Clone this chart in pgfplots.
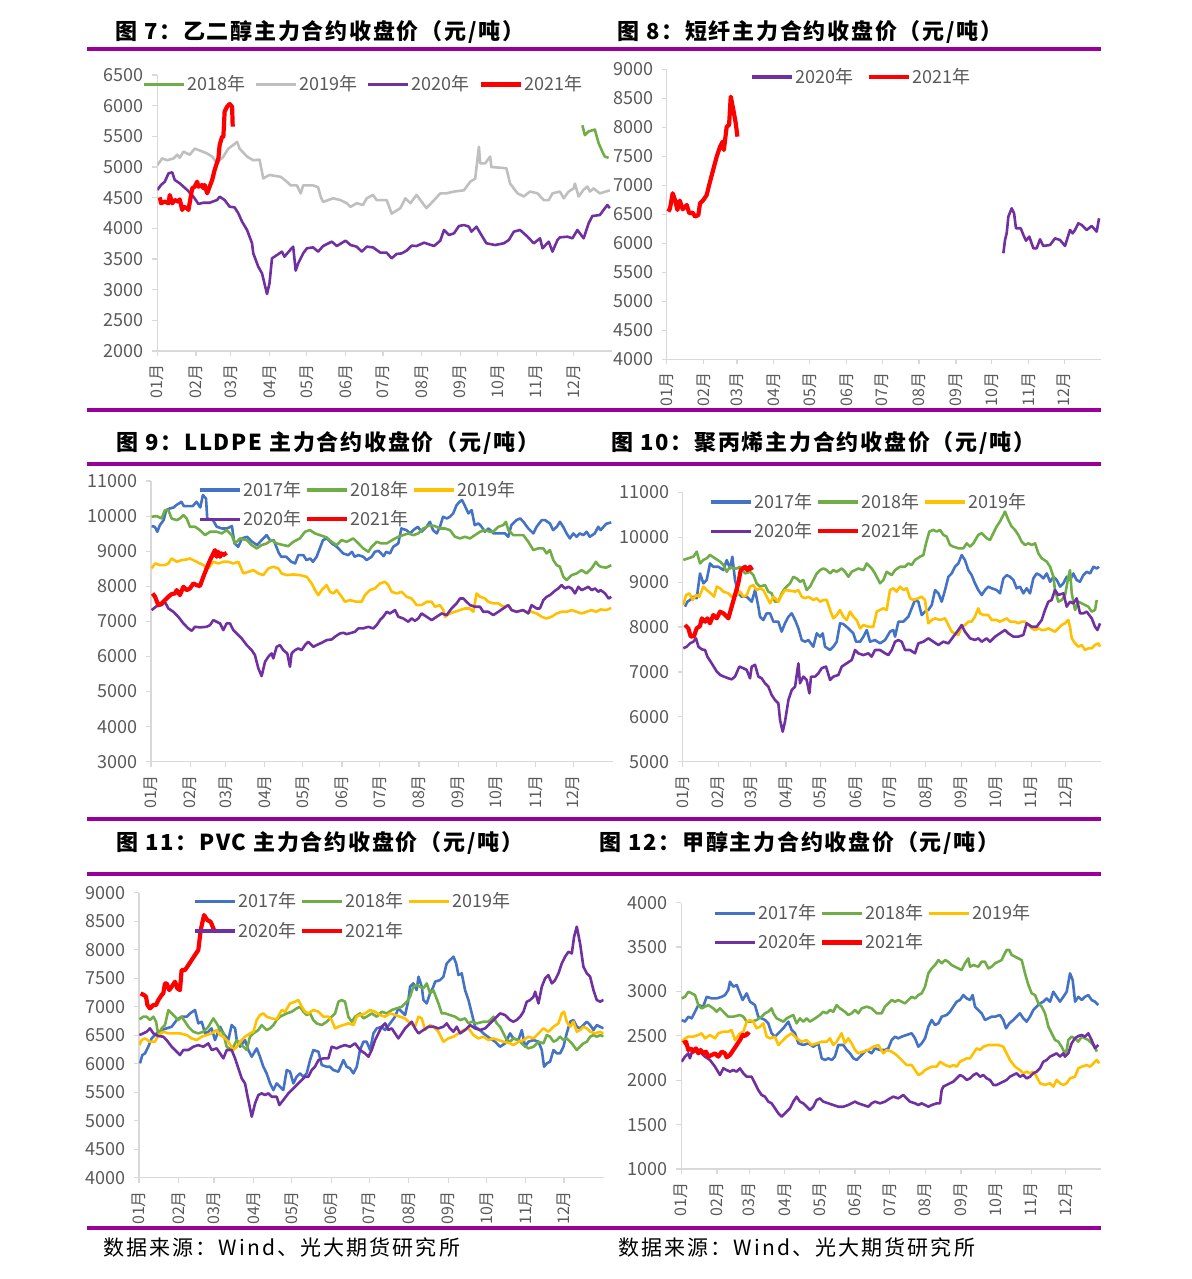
\documentclass[border=0pt]{standalone}
\usepackage{fontspec}
\usepackage{pgfplots}
\pgfplotsset{compat=1.18}
\setmainfont{Noto Sans CJK SC}
\newfontfamily\titlefont[LetterSpace=8]{Noto Sans CJK SC}
\newfontfamily\footfont[LetterSpace=10]{Noto Sans CJK SC}
\definecolor{c17}{HTML}{4472C4}
\definecolor{c18}{HTML}{70AD47}
\definecolor{c19}{HTML}{FFC000}
\definecolor{c20}{HTML}{7030A0}
\definecolor{c21}{HTML}{FF0000}
\definecolor{cgray}{HTML}{BFBFBF}
\definecolor{rulepurple}{HTML}{990099}
\definecolor{labgray}{HTML}{595959}
\definecolor{axisgray}{HTML}{D9D9D9}
\newcommand\ticksize{\fontsize{9pt}{10.5pt}\selectfont}
\newcommand\xticksize{\fontsize{8pt}{9.5pt}\selectfont}
\newcommand\ttl{\titlefont\bfseries\fontsize{11pt}{13pt}\selectfont}
\pgfplotsset{
 chartbase/.style={
  scale only axis, anchor=south west,
  axis lines=left, axis line style={-, draw=axisgray, line width=0.6pt},
  tick style={draw=axisgray, line width=0.6pt}, tick align=outside, major tick length=2.5pt,
  xmin=0, xmax=365,
  xtick={0,31,59,90,120,151,181,212,243,273,304,334},
  xticklabels={01月,02月,03月,04月,05月,06月,07月,08月,09月,10月,11月,12月},
  xticklabel style={rotate=90, anchor=east, font=\xticksize, text=labgray, inner sep=0pt},
  yticklabel style={font=\ticksize, text=labgray, inner sep=0pt},
  xticklabel shift=4pt, yticklabel shift=4pt,
  scaled ticks=false, /pgf/number format/1000 sep={}, /pgf/number format/assume math mode=true,
  legend cell align=left,
  legend style={draw=none, fill=none, font=\ticksize, inner sep=0pt, nodes={inner sep=1pt, text=labgray}},
  legend image code/.code={\draw[##1, line width=1.6pt] (0pt,0pt) -- (20pt,0pt);},
  every axis plot/.append style={line width=1.3pt, line join=round, no markers},
 },
 redline/.style={c21, line width=2.1pt},
 redleg/.style={legend image code/.code={\draw[c21, line width=2.2pt] (0pt,0pt) -- (20pt,0pt);}},
}
\begin{document}
\begin{tikzpicture}
\begin{scope}[x=0.5pt,y=-0.5pt]
\path[use as bounding box] (0,0) rectangle (1191,1279);
\foreach \yy in {49.5,409.5,463.5,819,874,1228} {\draw[rulepurple, line width=2pt] (87,\yy) -- (1101,\yy);}
\node[anchor=west, inner sep=0pt] at (115,32.3) {\ttl 图 7：乙二醇主力合约收盘价（元/吨）};
\node[anchor=west, inner sep=0pt] at (617,32.3) {\ttl 图 8：短纤主力合约收盘价（元/吨）};
\node[anchor=west, inner sep=0pt] at (116,443) {\ttl 图 9：LLDPE 主力合约收盘价（元/吨）};
\node[anchor=west, inner sep=0pt] at (611,443) {\ttl 图 10：聚丙烯主力合约收盘价（元/吨）};
\node[anchor=west, inner sep=0pt] at (116,842.7) {\ttl 图 11：PVC 主力合约收盘价（元/吨）};
\node[anchor=west, inner sep=0pt] at (599,842.7) {\ttl 图 12：甲醇主力合约收盘价（元/吨）};
\node[anchor=west, inner sep=0pt] at (103,1247.7) {\footfont\fontsize{10.5pt}{12pt}\selectfont 数据来源：Wind、光大期货研究所};
\node[anchor=west, inner sep=0pt] at (618,1247.7) {\footfont\fontsize{10.5pt}{12pt}\selectfont 数据来源：Wind、光大期货研究所};
\end{scope}

% ---------- Panel 1: 乙二醇 ----------
\begin{axis}[chartbase, at={(78.65pt,-175.5pt)}, width=227.5pt, height=138pt,
  ymin=2000, ymax=6500, ytick={2000,2500,...,6500},
  legend columns=4,
  legend style={at={(-0.0343,0.9663)}, anchor=west, /tikz/every even column/.append style={column sep=3.5pt}}]
\addplot[c18] coordinates {(341,5680)(343,5520)(346,5580)(351,5610)(354,5390)(357,5250)(359,5170)(362,5150)};
\addlegendentry{2018年}
\addplot[cgray] coordinates {(0,5030)(4,5140)(8,5110)(13,5140)(16,5200)(18,5150)(21,5250)(26,5200)(30,5300)(34,5270)(40,5220)(44,5170)(48,5060)(50,5110)(53,5170)(57,5300)(61,5360)(64,5410)(66,5300)(72,5170)(77,5110)(82,5120)(85,4815)(90,4870)(99,4840)(104,4760)(107,4700)(112,4700)(115,4570)(117,4700)(125,4700)(129,4670)(131,4520)(133,4430)(141,4490)(147,4460)(152,4410)(155,4350)(160,4410)(165,4380)(168,4490)(173,4545)(176,4460)(184,4460)(188,4240)(195,4330)(199,4490)(203,4410)(208,4545)(214,4380)(216,4330)(222,4460)(227,4570)(232,4570)(238,4600)(246,4620)(251,4760)(255,4810)(258,5330)(259,5060)(263,5060)(267,5170)(268,5000)(280,4980)(283,4730)(289,4570)(294,4520)(299,4600)(305,4570)(310,4460)(314,4460)(317,4570)(323,4600)(326,4490)(330,4600)(334,4650)(335,4730)(338,4520)(342,4630)(345,4680)(347,4600)(350,4650)(355,4570)(363,4620)};
\addlegendentry{2019年}
\addplot[c20] coordinates {(0,4625)(3,4707)(6,4760)(9,4897)(12,4913)(14,4788)(18,4734)(24,4625)(29,4516)(33,4397)(37,4418)(42,4418)(48,4462)(50,4516)(54,4462)(58,4353)(62,4342)(65,4245)(68,4109)(72,3973)(76,3756)(77,3592)(81,3375)(84,3266)(88,2929)(90,3103)(92,3511)(96,3565)(100,3620)(102,3538)(107,3658)(109,3701)(111,3310)(113,3429)(117,3592)(120,3674)(125,3690)(129,3620)(133,3712)(140,3783)(144,3712)(151,3799)(155,3728)(160,3701)(164,3620)(168,3701)(173,3690)(179,3603)(184,3603)(188,3511)(192,3582)(196,3592)(200,3636)(204,3717)(208,3712)(214,3766)(222,3712)(227,3799)(230,3973)(234,3891)(238,3919)(242,4038)(246,4054)(250,4027)(252,3946)(256,4027)(260,3891)(264,3756)(271,3728)(278,3756)(282,3810)(286,3946)(291,3973)(297,3864)(302,3756)(307,3837)(309,3674)(314,3783)(317,3620)(321,3810)(323,3853)(329,3864)(333,3837)(337,3973)(342,3837)(346,4082)(349,4201)(355,4217)(358,4300)(361,4380)(363,4330)};
\addlegendentry{2020年}
\addplot[redline, forget plot] coordinates {(2,4505)(3,4408)(6,4435)(9,4408)(10,4543)(12,4408)(14,4462)(17,4435)(18,4473)(20,4299)(21,4353)(24,4326)(25,4299)(28,4652)(30,4679)(32,4761)(33,4679)(36,4707)(37,4652)(38,4707)(40,4571)(41,4625)(44,4788)(46,4951)(49,5141)(50,5358)(52,5495)(53,5495)(54,5902)(56,5984)(58,6027)(60,5984)(60.5,5658)};
\addlegendimage{redleg}
\addlegendentry{2021年}
\end{axis}

% ---------- Panel 2: 短纤 ----------
\begin{axis}[chartbase, at={(333.35pt,-179.65pt)}, width=217.25pt, height=145pt,
  ymin=4000, ymax=9000, ytick={4000,4500,...,9000},
  legend columns=2,
  legend style={at={(0.1917,0.9734)}, anchor=west, /tikz/every even column/.append style={column sep=5.5pt}}]
\addplot[c20] coordinates {(282.8,5828)(284.2,6057)(285.6,6172)(287,6460)(289.8,6603)(291.8,6517)(293.4,6259)(297.4,6259)(299.6,6144)(301.8,6046)(304.6,6115)(308,5914)(310.8,5914)(313.6,6069)(316.4,5954)(322,5971)(326.2,6086)(330.4,6057)(334.6,5954)(338.8,6230)(341,6172)(343,6230)(345.8,6345)(348.6,6316)(352.8,6230)(357,6299)(361.2,6201)(363.2,6431)};
\addlegendentry{2020年}
\addplot[redline, forget plot] coordinates {(1.4,6546)(2.8,6603)(5,6862)(7,6747)(9,6575)(11,6736)(13.4,6586)(16.8,6661)(19,6517)(21.8,6529)(23.8,6460)(26.6,6488)(28,6690)(30.8,6747)(33.6,6833)(36.4,7063)(39,7264)(42,7494)(44.8,7667)(47,7753)(48,7609)(50.4,8011)(52.4,8040)(53.8,8529)(56,8299)(58,8069)(59.4,7839)};
\addlegendimage{redleg}
\addlegendentry{2021年}
\end{axis}

% ---------- Panel 3: LLDPE ----------
\begin{axis}[chartbase, at={(75.5pt,-380.85pt)}, width=230.75pt, height=140.35pt,
  ymin=3000, ymax=11000, ytick={3000,4000,...,11000},
  legend columns=3,
  legend style={at={(0.1018,0.9163)}, anchor=west, row sep=3.5pt, /tikz/every even column/.append style={column sep=0.5pt}}]
\addplot[c17] coordinates {(0.5,9715)(3,9696)(5,9554)(7,9743)(10,9886)(12,10171)(15,10218)(18,10247)(20,10313)(23,10380)(24,10408)(26,10285)(28,10285)(33,10285)(36,10408)(39,10247)(41,10598)(43.5,10503)(44.5,9933)(47,9905)(49,9886)(52,9696)(56,9648)(60,9648)(64,9715)(66,9221)(69,9126)(72,9364)(76,9411)(80,9268)(84,9174)(87.5,9316)(91.5,9458)(94,9316)(97,9316)(101,8955)(103,8841)(107,8841)(111,8698)(114,8651)(116.5,8888)(120.5,8888)(123,8746)(126,8793)(128,8698)(131,8841)(134,9126)(136,9316)(139,9364)(143,9221)(147,9126)(149.5,9031)(152,8936)(156,8888)(159,8983)(161,8841)(164,8888)(168,8841)(170.5,8746)(174.5,8841)(177,8983)(180,9012)(184,8860)(186,8983)(189,8936)(191.6,9126)(195.6,9221)(198,9648)(202,9601)(205,9506)(207.5,9601)(211,9696)(214,9554)(218,9696)(220.6,9838)(223,9601)(226,9506)(228.5,9696)(231,9981)(234,9933)(236.4,9981)(239,10076)(241.7,10313)(244,10408)(246,10456)(248,10313)(251,10076)(253.6,10171)(256,9743)(259,9791)(261.5,9696)(264,9554)(267,9648)(271,9506)(276,9506)(280,9506)(282.6,9411)(285,9743)(289,9886)(292,9933)(294.5,9838)(298.4,9648)(302.4,9506)(305,9696)(309,9886)(311.6,9886)(315.5,9791)(318,9601)(321,9696)(323.4,9838)(326,9696)(328.7,9506)(331.3,9364)(334,9506)(336.6,9411)(339,9506)(342,9458)(344.5,9554)(347,9411)(351,9506)(353.7,9696)(355.6,9601)(360,9780)(364,9820)};
\addlegendentry{2017年}
\addplot[c18] coordinates {(0.5,9981)(4.5,10000)(8.4,9933)(11,10171)(13.7,10171)(16.3,9933)(20.3,9886)(22.9,9933)(25.6,10028)(28.2,9933)(30.8,9696)(34.8,9696)(38.7,9601)(42.7,9458)(46.7,9554)(51.9,9554)(55.9,9506)(59.8,9601)(63.8,9458)(66.4,9221)(70.4,9364)(75.7,9316)(79.6,9174)(83.6,9079)(87.5,9174)(91.5,9221)(95.4,9316)(99.4,9221)(104.6,9174)(108.6,9145)(112.6,9268)(117.8,9364)(121.8,9554)(125.7,9601)(129.7,9506)(133.6,9458)(138.9,9392)(142.9,9268)(146.8,9174)(150.8,9316)(154.7,9268)(160,9364)(164,9221)(167.9,9079)(171.9,8983)(174.5,9126)(178.5,9268)(182.4,9221)(186.4,9221)(191.6,9335)(195.6,9411)(199.5,9458)(203.5,9506)(207.5,9458)(211.4,9506)(215.4,9648)(220.6,9743)(224.6,9715)(228.5,9648)(232.5,9648)(236.4,9601)(240.4,9411)(244.4,9364)(248.3,9411)(252.3,9364)(256.2,9458)(260.2,9554)(264.1,9601)(268.1,9554)(270.7,9554)(274.7,9696)(278.6,9743)(280.7,9838)(282.6,9601)(286.5,9458)(290.5,9458)(294.5,9458)(298.4,9268)(302.4,9031)(306.3,9079)(310.3,9079)(312.9,8936)(315.5,9031)(318.2,8746)(320.8,8604)(323.4,8556)(326.1,8271)(328.7,8176)(332.7,8319)(336.6,8366)(340.6,8461)(344.5,8366)(348.5,8509)(351.9,8698)(353.7,8604)(355.6,8556)(360,8530)(364,8600)};
\addlegendentry{2018年}
\addplot[c19] coordinates {(0.5,8508)(3.2,8651)(7.1,8603)(11,8603)(13.7,8651)(16.3,8793)(20.3,8698)(24.3,8746)(28.2,8765)(30.8,8793)(36.1,8698)(41.4,8603)(45.3,8508)(49.3,8698)(53.2,8651)(57.2,8698)(61.2,8698)(65.1,8651)(69.1,8698)(73,8366)(77,8413)(80.9,8461)(84.9,8366)(88.8,8319)(92.8,8508)(96.7,8556)(100.7,8508)(103.3,8366)(107.3,8319)(112.6,8337)(117.8,8319)(123.1,8271)(127.1,8081)(129.7,7891)(132.3,7748)(135,7891)(138.9,8033)(141.6,7843)(144.2,7796)(146.8,7891)(150.8,7701)(153.4,7558)(157.4,7606)(162.6,7558)(166.6,7558)(169.2,7748)(173.2,7891)(177.1,7938)(181.1,8081)(185,8128)(187.7,8033)(190.3,7843)(194.3,7796)(198.2,7843)(202.2,7701)(206.1,7653)(210.1,7463)(214,7463)(218,7558)(222,7558)(224.6,7416)(228.5,7463)(231.2,7321)(232.5,7131)(236.4,7226)(240.4,7273)(244.4,7321)(248.3,7368)(252.3,7368)(254.9,7273)(257.5,7796)(260.2,7701)(264.1,7653)(266.8,7558)(270.7,7511)(274.7,7511)(278.6,7416)(282.6,7463)(285.2,7321)(289.2,7273)(293.1,7321)(297.1,7273)(301,7273)(305,7226)(308.9,7131)(312.9,7083)(316.8,7131)(320.8,7226)(324.8,7273)(328.7,7273)(332.7,7321)(336.6,7273)(340.6,7226)(344.5,7273)(348.5,7321)(351.9,7273)(355.6,7340)(360,7320)(364,7380)};
\addlegendentry{2019年}
\addplot[c20] coordinates {(0.5,7321)(4.5,7435)(8.4,7463)(11,7558)(13.7,7368)(17.7,7273)(21.6,7131)(25.6,6941)(29.5,6799)(32.2,6732)(34.8,6846)(38.7,6827)(44,6846)(46.7,6894)(49.3,7036)(51.9,6989)(54.6,6941)(57.2,6751)(59.8,6941)(62.5,6941)(65.1,6751)(67.7,6656)(71.7,6514)(75.7,6324)(79.6,6181)(82.2,6039)(84.9,5660)(87.5,5441)(90.2,5849)(92.8,5992)(95.4,6086)(96.7,5944)(99.4,6276)(102,6324)(104.6,6181)(107.8,6086)(109.9,5706)(111.2,6086)(113.9,6181)(116.5,6229)(119.1,6181)(121.8,6324)(124.4,6419)(128.4,6276)(131,6324)(135,6390)(138.9,6466)(142.9,6485)(145.5,6561)(149.5,6656)(152.1,6675)(154.7,6637)(158.7,6675)(161.3,6703)(164,6799)(167.9,6799)(171.9,6846)(175.8,6799)(178.5,6894)(181.1,7036)(183.7,7131)(186.4,7273)(189,7226)(193,7321)(195.6,7131)(199.5,7083)(203.5,6989)(206.1,7083)(208.8,7017)(211.4,7083)(214,7226)(218,7131)(222,7036)(225.9,7131)(229.9,7226)(233.8,7178)(237.7,7368)(241.7,7511)(244.4,7653)(247,7653)(249.6,7558)(252.3,7463)(256.2,7416)(260.2,7416)(262.8,7273)(266.8,7273)(270.7,7178)(274.7,7273)(278.6,7368)(282.6,7463)(285.2,7321)(289.2,7273)(294.4,7321)(298.4,7226)(301,7463)(305,7368)(307.6,7368)(310.3,7606)(312.9,7701)(315.5,7748)(319.5,7872)(322.1,7938)(324.8,8033)(327.4,7938)(330.1,7986)(332.7,7938)(335.3,7796)(338,7986)(340.6,7891)(343.3,7938)(345.9,7986)(348.5,7891)(351.2,7938)(353.8,7843)(355.6,7891)(359,7800)(362,7650)(364,7700)};
\addlegendentry{2020年}
\addplot[redline, forget plot] coordinates {(1.3,7796)(3.2,7701)(5.8,7463)(8.4,7511)(11,7606)(13.7,7701)(16.3,7777)(19,7796)(20.3,7891)(22.9,7748)(25.6,7986)(28.2,7891)(30.8,7938)(33.5,8081)(36.1,8033)(38.7,8005)(41.4,8271)(44,8509)(46.7,8746)(49.3,8936)(50.6,9031)(51.9,8841)(53.2,8983)(54.6,8841)(55.9,8936)(57.2,8888)(59.8,8955)};
\addlegendimage{redleg}
\addlegendentry{2021年}
\end{axis}

% ---------- Panel 4: 聚丙烯 ----------
\begin{axis}[chartbase, at={(341.35pt,-380.85pt)}, width=209.25pt, height=134.7pt,
  ymin=5000, ymax=11000, ytick={5000,6000,...,11000},
  legend columns=3,
  legend style={at={(0.0628,0.910)}, anchor=west, row sep=3.5pt, /tikz/every even column/.append style={column sep=0.5pt}}]
\addplot[c17] coordinates {(2,8453)(4.1,8564)(6.4,8602)(9.3,8676)(12.2,8639)(15.1,9193)(18,8973)(20.9,9047)(23.8,9416)(26.7,9342)(31.1,9342)(35.5,9267)(38.4,9490)(41.3,9304)(43.3,9565)(45.6,9047)(48.5,8750)(51.4,8676)(55.8,8676)(60.2,8564)(63.1,8824)(66,8453)(67.4,8230)(70.3,8156)(73.2,8305)(76.2,8305)(79.1,8119)(83.4,8119)(86.3,7896)(89.2,8082)(92.2,8230)(95.1,8305)(98,8156)(100.9,7970)(103.8,7710)(106.7,7673)(109.6,7710)(113.9,7562)(116.9,7859)(119.8,7785)(122.1,7859)(124.1,7562)(128.5,7488)(131.4,7562)(134.3,7673)(137.2,8082)(140.1,8067)(144.5,7970)(148.8,7859)(151.2,7673)(154.7,7673)(157.6,7785)(160.5,7933)(163.4,7673)(167.7,7710)(172.1,7636)(176.5,7710)(180.8,7896)(183.7,7933)(185.2,7785)(188.1,8119)(192.4,8119)(196.8,8230)(199.7,8416)(202.6,8602)(205.5,8564)(208.4,8267)(211.3,8342)(214.2,8379)(217.2,8490)(220.1,8824)(223,8750)(225.9,8564)(228.8,8824)(231.7,9119)(234.6,9193)(237.5,9342)(240.4,9416)(243.3,9602)(246.2,9490)(249.1,9267)(252,9156)(254.9,8973)(257.8,8824)(260.8,8713)(263.7,8824)(266.6,8899)(269.5,8862)(273.8,8824)(276.7,8750)(279.7,9082)(282.6,9156)(285.5,9119)(288.4,9047)(291.3,8862)(294.2,8899)(297.1,8750)(300,8862)(302.9,8750)(305.8,9082)(308.7,9193)(311.6,9156)(314.6,9082)(317.5,9193)(320.4,9007)(323.3,9119)(326.2,9047)(329.1,8899)(332,8973)(334.9,9119)(337.8,9047)(340.7,9193)(343.6,9047)(346.5,9007)(349.4,9156)(352.4,9230)(355.3,9193)(358.2,9342)(361.1,9304)(363.1,9342)};
\addlegendentry{2017年}
\addplot[c18] coordinates {(0.6,9493)(4.9,9530)(9.3,9567)(12.2,9678)(15.1,9416)(18,9493)(20.9,9530)(23.8,9604)(28.2,9530)(32.6,9456)(35.5,9381)(38.4,9230)(41.3,9342)(44.2,9304)(47.1,9304)(50,9342)(54.4,9193)(58.7,9230)(61.6,9156)(64.5,8973)(67.4,8899)(71.8,8936)(74.7,8788)(77.6,8750)(80.5,8564)(83.4,8564)(86.3,8750)(89.2,8862)(93.6,8973)(96.5,9119)(99.4,9082)(102.3,9007)(105.2,9047)(108.1,8824)(111,8899)(114,9047)(116.9,9193)(119.8,9267)(122.7,9304)(125.6,9267)(128.5,9193)(131.4,9267)(134.3,9230)(138.7,9304)(141.6,9230)(144.5,9119)(147.4,9230)(150.3,9267)(153.2,9304)(157.6,9267)(160.5,9416)(164.8,9304)(167.7,9193)(172.1,8973)(175,9047)(177.9,9230)(182.3,9156)(185.2,9267)(189.5,9342)(193.9,9342)(196.8,9416)(199.7,9381)(202.6,9493)(207,9567)(209.9,9604)(212.2,9864)(215.1,10126)(218.6,10163)(221.5,10126)(224.4,10163)(227.3,10052)(230.2,10015)(233.1,9827)(236,9790)(240.4,9753)(244.8,9753)(247.7,9864)(250.6,9790)(253.5,9864)(257.8,10052)(260.8,10089)(265.1,9978)(268,9938)(270.9,10089)(273.8,10238)(276.7,10349)(279.7,10497)(281.1,10571)(284,10386)(286.9,10238)(289.8,10163)(292.7,10052)(295.6,9901)(298.5,9827)(301.5,9864)(304.4,9827)(307.3,9864)(310.2,9641)(313.1,9530)(317.5,9456)(320.4,9342)(323.3,9119)(324.7,8824)(327.6,8564)(330.6,8602)(333.5,8713)(336.4,9119)(337.8,9267)(339.3,8750)(342.2,8379)(345.1,8564)(348,8527)(350.9,8490)(353.8,8453)(356.7,8342)(359.6,8379)(361.1,8602)};
\addlegendentry{2018年}
\addplot[c19] coordinates {(0.6,8490)(2.9,8713)(5.8,8750)(8.7,8602)(11.6,8713)(14.5,8676)(18,8899)(20.9,8824)(24.4,8750)(27.3,8676)(29.7,8899)(32.6,8862)(35.5,8788)(39.8,8750)(42.7,8676)(47.1,8713)(50,8788)(52.9,8676)(55.8,8713)(58.7,8899)(61.6,8936)(64.5,8824)(67.4,8862)(70.3,8824)(73.3,8676)(76.2,8527)(79.1,8676)(83.4,8564)(86.3,8713)(89.2,8824)(93.6,8809)(98,8788)(100.9,8824)(103.8,8676)(106.7,8639)(109.6,8676)(114,8602)(116.9,8639)(119.8,8564)(122.7,8602)(125.6,8602)(128.5,8379)(131.4,8193)(134.3,8267)(137.2,8379)(140.1,8230)(143,8156)(145.9,8342)(148.8,8230)(151.7,8156)(154.7,7970)(157.6,8045)(161.9,8007)(166.3,8007)(169.2,8342)(172.1,8379)(175,8416)(177.9,8379)(180.8,8824)(183.7,8862)(186.6,8788)(189.5,8899)(192.4,8824)(195.4,8862)(198.3,8639)(201.2,8602)(205.5,8639)(208.4,8676)(211.3,8602)(214.2,8082)(217.2,8156)(220.1,8193)(224.4,8156)(228.8,8193)(231.7,8045)(234.6,7896)(237.5,7859)(240.4,7822)(243.3,8007)(246.2,8045)(249.1,8119)(252,8119)(254.9,8230)(257.8,8416)(259.3,8305)(262.2,8267)(266.6,8267)(269.5,8156)(273.8,8156)(276.7,8119)(279.7,8156)(282.6,8193)(285.5,8119)(289.8,8119)(292.7,8082)(295.6,8119)(298.5,8119)(301.5,8045)(304.4,7970)(307.3,7933)(310.2,7970)(313.1,7933)(316,7933)(318.9,7970)(321.8,7933)(324.7,7896)(327.6,7970)(330.5,8045)(333.4,8082)(336.3,8156)(337.8,8007)(339.3,7748)(342.2,7636)(345.1,7562)(348,7599)(350.9,7488)(353.8,7525)(356.7,7525)(359.6,7599)(362.5,7636)(364,7562)};
\addlegendentry{2019年}
\addplot[c20] coordinates {(0.6,7525)(3.5,7562)(6.4,7636)(9.3,7673)(11.6,7748)(13.7,7562)(16.6,7503)(19.5,7488)(21.5,7340)(25.3,7191)(29.7,7007)(32.6,6933)(36,6895)(39.8,6858)(42.7,6835)(45.6,6895)(49.4,7119)(52.9,7082)(55.8,7045)(58.7,6858)(60.2,7119)(63.1,7156)(66,6895)(68.9,6858)(71.8,6747)(74.7,6671)(77.6,6485)(80.5,6374)(83.4,6300)(84.9,5928)(87.2,5668)(89.2,5891)(92.2,6374)(95.1,6597)(98,6671)(100.9,7191)(102.3,6747)(105.2,6895)(108.1,6821)(110.5,6522)(111.9,6895)(115.4,6895)(118.3,6967)(121.2,7082)(125,7119)(128.5,6821)(131.4,6895)(135.8,6933)(138.7,7119)(143,7191)(147.4,7265)(150.3,7488)(153.2,7414)(157.6,7376)(161.9,7414)(164.8,7340)(167.7,7488)(172.1,7488)(176.5,7414)(179.4,7376)(182.3,7488)(185.2,7673)(188.1,7710)(191,7673)(193.9,7488)(198.3,7488)(202.6,7414)(205.5,7636)(209.9,7673)(214.2,7748)(218.6,7673)(223,7599)(227.3,7673)(231.7,7636)(236,7785)(240.4,7933)(243.3,8045)(246.2,7896)(250.6,7748)(254.9,7710)(257.8,7748)(260.8,7673)(265.1,7748)(268,7673)(272.4,7785)(276.7,7859)(281.1,7933)(284,7859)(288.4,7785)(292.7,7785)(297.1,7822)(300,8082)(304.4,8007)(308.7,8007)(313.1,8156)(316,8379)(318.9,8564)(321.8,8602)(324.7,8824)(327.6,8713)(332,8750)(334.9,8453)(337.8,8564)(340.7,8527)(343.6,8639)(346.5,8305)(349.4,8305)(352.4,8342)(356.7,8193)(359.6,8007)(361.7,7933)(364,8082)};
\addlegendentry{2020年}
\addplot[redline, forget plot] coordinates {(2,8045)(4.9,7970)(7,7785)(9.9,7800)(12.2,7970)(15.1,8022)(16.6,8193)(19.5,8119)(21.5,8193)(23.8,8082)(26.7,8267)(29.7,8193)(32.6,8342)(35.5,8305)(38.4,8230)(39.8,8193)(42.7,8453)(45.6,8713)(48.5,8973)(50.6,9267)(52.3,9304)(54.4,9342)(56.4,9267)(58.7,9342)(60.5,9267)};
\addlegendimage{redleg}
\addlegendentry{2021年}
\end{axis}

% ---------- Panel 5: PVC ----------
\begin{axis}[chartbase, at={(69.5pt,-588.85pt)}, width=232.25pt, height=142.5pt,
  ymin=4000, ymax=9000, ytick={4000,4500,...,9000},
  legend columns=3,
  legend style={at={(0.1163,0.9172)}, anchor=west, row sep=3.5pt, /tikz/every even column/.append style={column sep=0.5pt}}]
\addplot[c17] coordinates {(0.8,6006)(2.6,6152)(4.7,6181)(7.3,6298)(9.9,6444)(13.9,6532)(17.8,6591)(21.7,6620)(25.7,6649)(29.6,6766)(33.5,6825)(37.5,6825)(40.1,6883)(44,6942)(46.6,6708)(49.3,6737)(51.9,6532)(54.5,6561)(57.1,6620)(59.7,6415)(63.7,6649)(66.3,6532)(70.2,6415)(72.8,6678)(75.5,6620)(76.8,6415)(79.4,6298)(83.3,6415)(85.9,6240)(88.6,6123)(92.5,6269)(95.1,6123)(97.7,5947)(100.3,5830)(103,5655)(105.6,5538)(108.2,5655)(110.8,5596)(113.4,5538)(116.1,5889)(118.7,5860)(121.3,5655)(123.9,5772)(126.5,5830)(129.2,5772)(131.8,5830)(134.4,6064)(137,6240)(141,6210)(143.6,5977)(147.5,5947)(150.1,5947)(152.7,5889)(156.7,5860)(160.6,6064)(163.2,5947)(165.8,5918)(168.5,5830)(171.1,5947)(173.7,6240)(176.3,6386)(178.9,6386)(181.6,6240)(184.2,6532)(186.8,6620)(190.7,6649)(193.4,6591)(197.3,6708)(201.2,6825)(203.8,6971)(206.5,6912)(209.1,6854)(211.7,7117)(213,7351)(215.6,7409)(218.2,7292)(219.6,7526)(222.2,7351)(223.5,7117)(226.1,7058)(228.7,7234)(231.3,7351)(232.7,7439)(236.6,7468)(239.2,7526)(241.8,7760)(244.4,7819)(247.1,7877)(249.2,7760)(251,7555)(253.6,7585)(256.2,7292)(258.9,7117)(261.5,6883)(264.1,6649)(268,6591)(270.6,6532)(275.9,6444)(279.8,6386)(283.7,6298)(287.7,6357)(291.6,6532)(294.2,6444)(298.2,6415)(300.8,6591)(303.4,6298)(306,6386)(310,6415)(313.9,6386)(316.5,6240)(318.3,5947)(320.4,6006)(323,6035)(325.7,6240)(328.3,6181)(330.9,6181)(333.5,6298)(336.1,6532)(338.8,6737)(341.4,6766)(344,6649)(346.6,6620)(349.2,6678)(351.9,6737)(354.5,6678)(357.1,6591)(359.7,6678)(362.3,6649)(365,6620)};
\addlegendentry{2017年}
\addplot[c18] coordinates {(0.3,6778)(3.4,6825)(6,6825)(8.6,6766)(11.3,6825)(13.4,6737)(15.2,6503)(17.8,6620)(20.4,6678)(23.1,6942)(25.7,6883)(28.3,6825)(30.9,6766)(33.5,6825)(36.2,6737)(38.8,6649)(42.7,6561)(46.6,6532)(50.6,6561)(54.5,6649)(58.4,6795)(61,6708)(63.7,6591)(66.3,6532)(68.9,6298)(72.8,6240)(76.8,6415)(79.4,6357)(82,6298)(84.6,6240)(87.2,6474)(89.9,6532)(93.8,6591)(96.4,6678)(100.3,6591)(103,6620)(105.6,6678)(108.2,6766)(110.8,6825)(113.4,6854)(116.1,6883)(120,6912)(123.9,6971)(126.5,7000)(129.2,6912)(131.8,6854)(134.4,6883)(137,6766)(139.6,6708)(143.6,6678)(147.5,6737)(151.4,6825)(154.1,6883)(156.7,7088)(159.3,7117)(161.9,7088)(164.5,6825)(167.2,6737)(169.8,6825)(173.7,6883)(176.3,6795)(178.9,6825)(182.9,6883)(186.8,6825)(190.7,6912)(194.7,6883)(198.6,6942)(202.5,6971)(206.5,7000)(210.4,7088)(213,7176)(215.6,7351)(218.2,7380)(220.9,7351)(223.5,7322)(226.1,7409)(228.7,7234)(231.3,7292)(235.3,7058)(237.9,6883)(240.5,6883)(244.4,6854)(248.4,6825)(252.3,6766)(256.2,6795)(258.9,6708)(261.5,6737)(265.4,6708)(270.6,6737)(274.6,6737)(278.5,6825)(281.1,6708)(283.7,6649)(286.4,6532)(289,6415)(291.6,6386)(294.2,6444)(298.2,6415)(302.1,6327)(306,6269)(310,6298)(313.9,6386)(317.8,6357)(320.4,6503)(323,6474)(325.7,6386)(328.3,6415)(330.9,6474)(333.5,6415)(336.1,6444)(340.1,6357)(344,6240)(346.6,6298)(349.2,6357)(351.9,6386)(354.5,6474)(357.1,6503)(359.7,6474)(362.3,6503)(365,6480)};
\addlegendentry{2018年}
\addplot[c19] coordinates {(0.3,6327)(2.1,6415)(4.7,6444)(8.6,6386)(12.6,6386)(15.2,6503)(19.1,6561)(23.1,6532)(27,6532)(32.2,6532)(37.5,6503)(41.4,6444)(45.3,6415)(49.3,6474)(53.2,6503)(57.1,6532)(61,6591)(63.7,6503)(66.3,6474)(70.2,6386)(74.1,6240)(76.8,6298)(79.4,6386)(83.3,6474)(87.2,6532)(89.9,6561)(92.5,6766)(95.1,6854)(97.7,6883)(100.3,6825)(104.3,6795)(108.2,6778)(112.1,6942)(114.8,6912)(118.7,7058)(122.6,7088)(125.2,7117)(127.9,7000)(130.5,6912)(133.1,6883)(137,6942)(141,6912)(144.9,6825)(148.8,6825)(151.4,6766)(154.1,6620)(156.7,6649)(160.6,6678)(164.5,6708)(168.5,6678)(171.1,6825)(173.7,6854)(177.6,6883)(181.6,6942)(185.5,6912)(189.4,6854)(193.4,6825)(197.3,6883)(201.2,6854)(205.1,6825)(209.1,6795)(213,6708)(216.9,6649)(219.6,6825)(222.2,6795)(224.8,6591)(228.7,6678)(231.3,6649)(235.3,6561)(239.2,6386)(243.1,6444)(247.1,6474)(251,6532)(254.9,6591)(258.9,6620)(262.8,6503)(266.7,6444)(270.6,6474)(274.6,6415)(278.5,6444)(282.4,6415)(286.4,6386)(291.6,6357)(294.2,6327)(298.2,6386)(302.1,6415)(306,6474)(310,6444)(313.9,6532)(317.8,6620)(321.7,6561)(325.7,6649)(329.6,6708)(332.2,6883)(334,6912)(336.1,6737)(338.8,6649)(341.4,6737)(344,6561)(346.6,6591)(349.2,6649)(351.9,6620)(354.5,6561)(358.4,6532)(362.3,6561)(365,6530)};
\addlegendentry{2019年}
\addplot[c20] coordinates {(0.3,6503)(3.4,6532)(6,6561)(8.6,6620)(11.3,6532)(15.2,6486)(19.1,6474)(21.7,6415)(25.7,6298)(29.6,6210)(32.2,6152)(34.8,6240)(38.8,6240)(42.7,6298)(46.6,6327)(50.6,6298)(54.5,6357)(57.1,6240)(61,6269)(63.7,6181)(66.3,6094)(68.9,6240)(72.8,6240)(75.5,6094)(78.1,5918)(80.7,5743)(83.3,5655)(85.9,5363)(88.6,5070)(91.2,5304)(93.8,5450)(96.4,5480)(99,5450)(101.7,5480)(104.3,5421)(108.2,5421)(110.3,5275)(113.4,5363)(117.4,5480)(121.3,5567)(125.2,5655)(127.9,5713)(130.5,5772)(133.1,5772)(135.7,5889)(138.3,5947)(141,6064)(144.9,6094)(148.8,6094)(151.4,6298)(155.4,6269)(158,6298)(161.9,6327)(165.8,6298)(169.8,6357)(173.7,6240)(177.6,6181)(180.3,6123)(182.9,6240)(185.5,6415)(188.1,6532)(190.7,6649)(193.4,6708)(196,6591)(198.6,6620)(201.2,6532)(203.8,6444)(206.5,6532)(209.1,6620)(211.7,6678)(214.3,6737)(216.9,6620)(219.6,6532)(223.5,6591)(227.4,6649)(231.3,6649)(235.3,6620)(239.2,6649)(241.8,6708)(244.4,6620)(247.1,6561)(249.7,6649)(252.3,6532)(256.2,6591)(260.2,6678)(264.1,6620)(268,6591)(272,6620)(275.9,6708)(279.8,6795)(283.7,6883)(287.7,6854)(291.6,6766)(294.2,6737)(296.8,6766)(299.5,6825)(302.1,6912)(304.7,7088)(307.3,7117)(310,7176)(311.3,7263)(313.9,7058)(316.5,7351)(319.1,7497)(321.7,7555)(324.4,7409)(327,7468)(329.6,7585)(332.2,7760)(334.8,7877)(337.5,7965)(340.1,7936)(341.9,8228)(344,8404)(346.6,8111)(349.2,7702)(351.9,7585)(354.5,7526)(357.1,7292)(359.7,7117)(362.3,7088)(365,7120)};
\addlegendentry{2020年}
\addplot[redline, forget plot] coordinates {(1.3,7234)(3.9,7205)(5.5,7176)(6.6,7030)(8.6,6971)(11.3,7030)(13.4,7030)(15.2,7117)(17.8,7205)(19.1,7234)(20.4,7409)(21.7,7409)(23.8,7292)(25.7,7351)(28.3,7439)(30.1,7322)(32.2,7292)(33.5,7643)(36.2,7643)(38.8,7731)(41.4,7819)(44,7907)(46.6,7994)(48.5,8345)(51.1,8608)(53.7,8520)(56.3,8491)(59,8345)(60.5,8316)};
\addlegendimage{redleg}
\addlegendentry{2021年}
\end{axis}

% ---------- Panel 6: 甲醇 ----------
\begin{axis}[chartbase, at={(340.65pt,-584.5pt)}, width=210pt, height=133.15pt,
  ymin=1000, ymax=4000, ytick={1000,1500,...,4000},
  legend columns=3,
  legend style={at={(0.0755,0.905)}, anchor=west, row sep=3.5pt, /tikz/every even column/.append style={column sep=0.5pt}}]
\addplot[c17] coordinates {(0.3,2679)(3.2,2660)(6.1,2716)(9,2697)(11.9,2772)(14.8,2847)(19.1,2829)(22,2940)(26.4,2922)(30.7,2922)(35.1,2940)(38,2960)(40.8,3016)(42.3,3110)(45.2,3054)(48.1,3073)(51,2979)(53.3,2904)(56.8,2979)(59.7,2885)(64,2847)(66.9,2716)(69.8,2697)(72.7,2679)(75.6,2641)(78.5,2529)(81.4,2491)(84.3,2529)(88.6,2585)(93,2660)(95.9,2566)(98.8,2529)(101.7,2416)(106,2397)(110.4,2416)(114.7,2378)(119.1,2416)(122,2247)(124.9,2228)(127.8,2247)(130.7,2228)(133.5,2266)(136.4,2397)(140.8,2397)(143.7,2341)(146.6,2303)(149.5,2247)(152.4,2228)(156.7,2285)(161.1,2341)(165.4,2303)(168.3,2359)(172.7,2341)(177,2341)(179.9,2359)(182.8,2453)(185.7,2491)(188.6,2472)(191.5,2491)(195.8,2510)(200.2,2529)(203.1,2472)(206,2378)(208.9,2416)(211.8,2472)(214.7,2604)(217.6,2679)(220.5,2622)(223.4,2641)(226.3,2716)(230.6,2735)(233.5,2772)(236.4,2829)(239.3,2885)(242.2,2904)(245.1,2960)(248,2922)(250.9,2904)(253.2,2960)(255.2,2829)(258.1,2791)(261,2754)(263.9,2679)(266.8,2697)(269.7,2716)(272.6,2716)(276.9,2735)(279.8,2679)(282.2,2585)(285.1,2641)(288.5,2679)(291.4,2716)(294.3,2754)(297.2,2697)(300.1,2660)(303,2716)(305.9,2791)(308.8,2829)(311.7,2866)(314.6,2885)(317.5,2922)(320.4,2885)(323.3,2997)(326.2,2940)(329.1,2885)(332,2940)(334.9,2997)(337.8,3204)(340.1,3129)(342.2,2885)(345.1,2940)(348,2904)(350.8,2940)(353.7,2960)(356.6,2904)(359.5,2885)(362.4,2847)};
\addlegendentry{2017年}
\addplot[c18] coordinates {(0.3,2922)(3.2,2940)(6.1,2997)(9,2979)(11.9,2960)(14.8,2847)(17.7,2810)(20.6,2829)(23.5,2847)(27.8,2810)(30.7,2772)(33.6,2810)(36.5,2772)(40.8,2716)(45.2,2716)(51,2735)(53.9,2716)(56.8,2660)(61.1,2660)(65.5,2679)(69.8,2716)(72.7,2754)(75.6,2772)(78.5,2810)(80,2754)(82.9,2697)(85.8,2679)(88.6,2660)(91.5,2697)(94.4,2716)(97.3,2735)(100.2,2641)(103.1,2697)(106,2660)(108.9,2697)(111.8,2660)(116.2,2697)(120.5,2735)(123.4,2772)(126.3,2754)(129.2,2791)(132.1,2772)(135,2847)(137.9,2810)(142.2,2772)(145.1,2735)(148,2754)(150.9,2791)(153.8,2754)(156.7,2810)(161.1,2829)(165.4,2810)(169.8,2754)(174.1,2754)(177,2829)(179.9,2866)(182.8,2904)(185.7,2885)(188.6,2904)(191.5,2885)(194.4,2866)(197.3,2904)(200.2,2940)(203.1,2922)(206,2960)(208.9,2979)(211.8,3054)(214.7,3204)(217.6,3260)(220.5,3298)(223.4,3354)(226.3,3317)(229.2,3354)(232,3335)(234.9,3298)(237.8,3279)(240.7,3260)(243.6,3242)(246.5,3317)(249.4,3373)(250.9,3279)(253.8,3298)(258.1,3279)(261,3335)(263.9,3335)(266.8,3260)(269.7,3279)(272.6,3317)(275.5,3335)(278.4,3354)(280.4,3411)(282.7,3467)(285.1,3467)(287.1,3411)(290,3392)(292.9,3373)(295.8,3354)(298.7,3204)(301.6,3073)(304.5,2979)(307.4,2960)(310.3,2866)(313.2,2829)(316.1,2754)(319,2604)(321.9,2529)(324.8,2453)(327.6,2435)(330.5,2378)(333.4,2303)(334.9,2341)(336.3,2453)(339.2,2491)(342.1,2472)(345,2435)(347.9,2491)(350.8,2472)(353.7,2453)(356.6,2416)(359.5,2378)(361,2322)};
\addlegendentry{2018年}
\addplot[c19] coordinates {(0.3,2434)(3.2,2472)(6.1,2491)(10.4,2491)(14.8,2510)(17.7,2529)(20.6,2472)(24.9,2510)(29.3,2472)(32.2,2529)(36.5,2547)(40.8,2547)(43.7,2566)(46.6,2453)(51,2529)(53.9,2547)(56.8,2660)(59.7,2679)(62.6,2660)(65.5,2585)(68.4,2604)(71.3,2641)(74.2,2491)(77.1,2472)(81.4,2491)(84.3,2397)(87.2,2434)(91.5,2491)(95.9,2529)(100.2,2472)(104.6,2434)(108.9,2453)(113.3,2397)(117.6,2416)(122,2434)(126.3,2434)(129.2,2472)(132.1,2397)(135,2434)(139.3,2529)(142.2,2416)(145.1,2472)(148,2416)(150.9,2341)(153.8,2303)(158.2,2322)(162.5,2341)(166.9,2378)(171.2,2397)(175.6,2303)(178.5,2341)(182.8,2322)(187.1,2284)(191.5,2228)(195.8,2172)(200.2,2172)(203.1,2115)(206,2059)(208.9,2078)(211.8,2115)(214.7,2134)(217.6,2153)(221.9,2153)(224.8,2209)(229.2,2172)(233.5,2153)(236.4,2172)(239.3,2153)(242.2,2209)(245.1,2228)(248,2247)(250.9,2247)(253.8,2303)(256.7,2359)(259.6,2341)(262.5,2378)(266.8,2397)(271.2,2397)(275.5,2397)(279.8,2378)(282.7,2303)(285.6,2228)(290,2153)(294.3,2115)(297.2,2078)(300.1,2097)(303,2078)(305.9,2097)(308.8,2040)(311.7,1966)(316.1,1947)(320.4,1966)(323.3,1928)(326.2,2003)(329.1,1966)(332,1947)(334.9,1966)(337.8,2021)(342.1,2040)(345,2134)(347.9,2153)(352.3,2172)(355.2,2153)(358.1,2190)(361,2228)(363.3,2190)};
\addlegendentry{2019年}
\addplot[c20] coordinates {(0.3,2209)(3.2,2265)(6.1,2303)(7.5,2247)(9.8,2341)(11.9,2359)(14.8,2341)(17.7,2303)(20.6,2265)(24.9,2228)(29.3,2153)(33.6,2059)(36.5,2134)(39.4,2115)(42.3,2097)(45.2,2115)(48.1,2097)(51,2134)(53.9,2078)(56.8,2040)(61.1,2040)(64,1966)(66.9,1890)(69.8,1834)(72.7,1815)(75.6,1759)(78.5,1740)(81.4,1684)(84.3,1627)(87.2,1590)(90.1,1627)(94.4,1684)(97.3,1759)(100.2,1815)(103.1,1759)(106,1740)(108.9,1702)(111.8,1665)(114.7,1702)(117.6,1777)(120.5,1796)(123.4,1759)(127.8,1740)(132.1,1721)(136.4,1702)(140.8,1702)(145.1,1721)(148,1740)(150.9,1759)(153.8,1740)(158.2,1721)(162.5,1702)(165.4,1740)(168.3,1759)(172.7,1740)(177,1759)(181.4,1796)(184.2,1815)(188.6,1796)(192.9,1834)(195.8,1796)(198.7,1759)(203.1,1740)(206,1721)(208.9,1740)(211.8,1721)(214.7,1702)(217.6,1721)(221.9,1740)(224.8,1740)(226.3,1890)(227.7,1928)(230.6,1947)(233.5,1966)(236.4,1984)(239.3,2021)(242.2,2059)(245.1,2040)(248,2003)(250.9,2021)(253.8,2059)(256.7,2078)(259.6,2040)(262.5,2059)(265.4,2021)(268.3,2003)(271.2,1947)(274.1,1947)(276.9,1966)(279.8,1984)(282.7,2003)(285.6,2040)(288.5,2059)(291.4,2078)(294.3,2040)(297.2,2059)(300.1,2021)(303,2040)(305.9,2078)(308.8,2097)(311.7,2134)(314.6,2209)(317.5,2228)(320.4,2266)(323.3,2284)(326.2,2303)(329.1,2266)(332,2303)(333.4,2266)(336.3,2303)(339.2,2416)(342.1,2472)(345,2498)(347.9,2510)(350.8,2491)(353.7,2529)(356.6,2453)(359.5,2359)(362.4,2397)};
\addlegendentry{2020年}
\addplot[redline, forget plot] coordinates {(1.7,2416)(4.1,2434)(6.1,2341)(8.1,2359)(10.4,2322)(12.7,2359)(14.8,2303)(16.8,2341)(19.1,2303)(21.4,2322)(23.5,2266)(26.4,2284)(29.3,2303)(32.2,2266)(35.1,2322)(38,2303)(39.4,2258)(42.3,2284)(45.2,2341)(48.1,2397)(51,2453)(53.3,2510)(55.3,2498)(57.4,2529)(59.1,2510)};
\addlegendimage{redleg}
\addlegendentry{2021年}
\end{axis}
\end{tikzpicture}
\end{document}
